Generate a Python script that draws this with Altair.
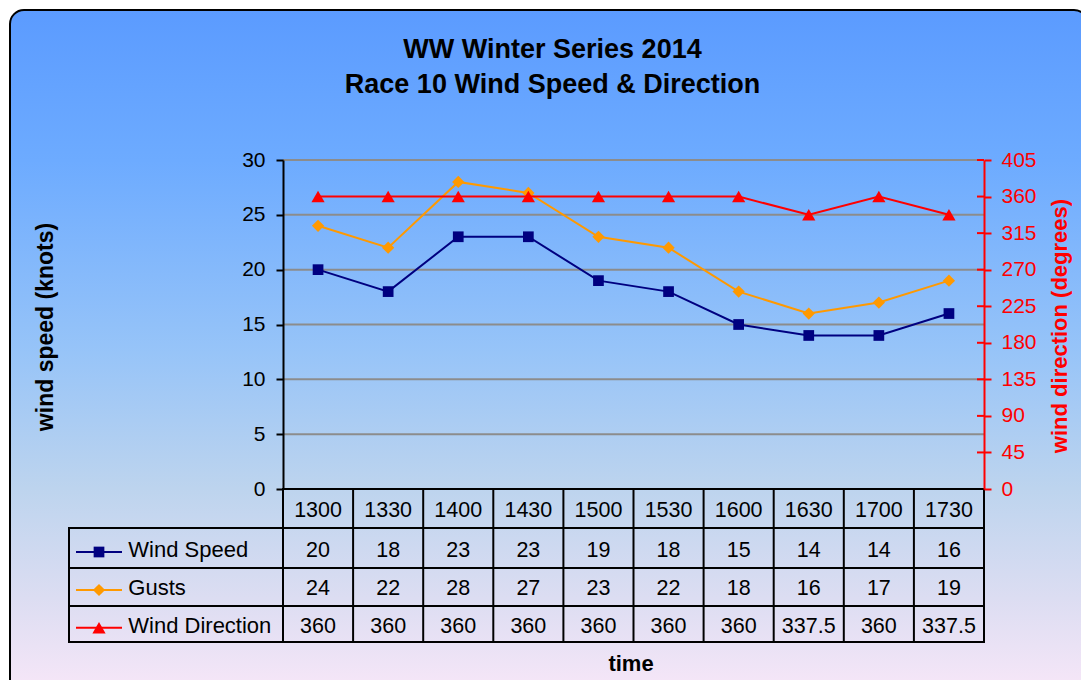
import altair as alt
import pandas as pd

# ---------------- data ----------------
TIMES = ["1300", "1330", "1400", "1430", "1500", "1530", "1600", "1630", "1700", "1730"]
WIND_SPEED = [20, 18, 23, 23, 19, 18, 15, 14, 14, 16]
GUSTS = [24, 22, 28, 27, 23, 22, 18, 16, 17, 19]
WIND_DIRECTION = [360, 360, 360, 360, 360, 360, 360, 337.5, 360, 337.5]
SERIES = ["Wind Speed", "Gusts", "Wind Direction"]
SPEED_TICKS = [0, 5, 10, 15, 20, 25, 30]
DIR_TICKS = [0, 45, 90, 135, 180, 225, 270, 315, 360, 405]
TITLE = ["WW Winter Series 2014", "Race 10 Wind Speed & Direction"]
Y_TITLE_LEFT = "wind speed (knots)"
Y_TITLE_RIGHT = "wind direction (degrees)"
X_TITLE = "time"

rows = []
for name, vals in zip(SERIES, [WIND_SPEED, GUSTS, WIND_DIRECTION]):
    for t, v in zip(TIMES, vals):
        rows.append({"time": t, "series": name, "value": v, "label": f"{v:g}"})
df = pd.DataFrame(rows)
times_df = pd.DataFrame({"time": TIMES})
one = pd.DataFrame({"k": [0]})
speed_ticks_df = pd.DataFrame({"tick": SPEED_TICKS})
dir_ticks_df = pd.DataFrame({"tick": DIR_TICKS})

# ---------------- styles / layout ----------------
W, H = 701, 329
FONT = "Liberation Sans"
STYLE = {
    "Wind Speed": dict(color="#000080", shape="square", size=115),
    "Gusts": dict(color="#FF9900", shape="diamond", size=150),
    "Wind Direction": dict(color="#FF0000", shape="triangle-up", size=175),
}
ROW_BASE = {"Wind Speed": 397.3, "Gusts": 435, "Wind Direction": 472.7}
KEY_Y = {"Wind Speed": 392, "Gusts": 430, "Wind Direction": 467.7}
HEADER_BASE = 356.7
TABLE_FONT = 21.5

XS = alt.Scale(domain=TIMES, paddingInner=0, paddingOuter=0)
X = alt.X("time:O", scale=XS, axis=None)
YL = alt.Scale(domain=[0, 30], nice=False)
YR = alt.Scale(domain=[0, 405], nice=False)

axis_left = alt.Axis(orient="left", values=SPEED_TICKS, tickSize=7, tickWidth=2,
                     tickColor="black", domainColor="black", domainWidth=2,
                     labelFontSize=21, labelColor="black", labelFont=FONT,
                     labelPadding=11, title=None, grid=False, zindex=1)
axis_right = alt.Axis(orient="right", values=DIR_TICKS, tickSize=7, tickWidth=2,
                      tickColor="#FF0000", domainColor="#FF0000", domainWidth=2,
                      labelFontSize=21, labelColor="#FF0000", labelFont=FONT,
                      labelPadding=10, title=None, grid=False, zindex=1)

# background panel
bg = alt.Chart(one).mark_rect(
    fill=alt.LinearGradient(
        gradient="linear", x1=0, y1=0, x2=0, y2=1,
        stops=[
            alt.GradientStop(color="#5B9BFF", offset=0),
            alt.GradientStop(color="#6DABFF", offset=0.22),
            alt.GradientStop(color="#97C4F8", offset=0.5),
            alt.GradientStop(color="#BDD4EE", offset=0.70),
            alt.GradientStop(color="#DCDDF2", offset=0.86),
            alt.GradientStop(color="#F8E7F8", offset=1),
        ]),
    stroke="black", strokeWidth=2, cornerRadius=14,
).encode(x=alt.value(-273), x2=alt.value(805), y=alt.value(-150), y2=alt.value(534))

# grid lines on the speed scale
grid = alt.Chart(speed_ticks_df).transform_filter("datum.tick > 0").mark_rule(
    color="#8c8c8c", strokeWidth=2
).encode(y=alt.Y("tick:Q", scale=YL, axis=axis_left), x=alt.value(0), x2=alt.value(W))


def series_layers(name, scale, axis):
    st = STYLE[name]
    base = alt.Chart(df).transform_filter(alt.datum.series == name)
    y = alt.Y("value:Q", scale=scale, axis=axis)
    line = base.mark_line(color=st["color"], strokeWidth=2).encode(x=X, y=y)
    pts = base.mark_point(filled=True, opacity=1, shape=st["shape"], size=st["size"],
                          color=st["color"]).encode(x=X, y=y)
    return [line, pts]


left_group = alt.layer(grid,
                       *series_layers("Wind Speed", YL, axis_left),
                       *series_layers("Gusts", YL, axis_left))

dir_inner_ticks = alt.Chart(dir_ticks_df).mark_rule(color="#FF0000", strokeWidth=2).encode(
    y=alt.Y("tick:Q", scale=YR, axis=axis_right), x=alt.value(W - 7), x2=alt.value(W))
right_group = alt.layer(dir_inner_ticks, *series_layers("Wind Direction", YR, axis_right))

# ---------------- data table ----------------
table = []
LINE = dict(color="black", strokeWidth=2, strokeCap="square")
table.append(alt.Chart(one).mark_rule(**LINE).encode(
    x=alt.value(0), x2=alt.value(W), y=alt.value(H)))
for yy in [368, 408, 446, 482]:
    table.append(alt.Chart(one).mark_rule(**LINE).encode(
        x=alt.value(-214), x2=alt.value(W), y=alt.value(yy)))
table.append(alt.Chart(one).mark_rule(**LINE).encode(
    x=alt.value(-214), y=alt.value(368), y2=alt.value(482)))
table.append(alt.Chart(one).mark_rule(**LINE).encode(
    x=alt.value(W), y=alt.value(H), y2=alt.value(482)))
table.append(alt.Chart(times_df).mark_rule(**LINE).encode(
    x=alt.X("time:O", scale=XS, axis=None, bandPosition=0),
    y=alt.value(H), y2=alt.value(482)))

TXT = dict(font=FONT, color="black", baseline="alphabetic")
table.append(alt.Chart(times_df).mark_text(align="center", fontSize=TABLE_FONT, **TXT).encode(
    x=X, y=alt.value(HEADER_BASE), text="time:N"))
for name in SERIES:
    st = STYLE[name]
    table.append(alt.Chart(df).transform_filter(alt.datum.series == name)
                 .mark_text(align="center", fontSize=TABLE_FONT, **TXT)
                 .encode(x=X, y=alt.value(ROW_BASE[name]), text="label:N"))
    table.append(alt.Chart(one).mark_text(align="left", fontSize=22, **TXT).encode(
        x=alt.value(-154.7), y=alt.value(ROW_BASE[name]), text=alt.value(name)))
    table.append(alt.Chart(one).mark_rule(color=st["color"], strokeWidth=2).encode(
        x=alt.value(-207), x2=alt.value(-161), y=alt.value(KEY_Y[name])))
    table.append(alt.Chart(one).mark_point(filled=True, opacity=1, shape=st["shape"],
                                           size=st["size"], color=st["color"]).encode(
        x=alt.value(-184), y=alt.value(KEY_Y[name])))

# ---------------- titles ----------------
texts = [
    alt.Chart(one).mark_text(font=FONT, fontSize=27, fontWeight="bold", align="center",
                             baseline="alphabetic", color="black").encode(
        x=alt.value(269.5), y=alt.value(-102), text=alt.value(TITLE[0])),
    alt.Chart(one).mark_text(font=FONT, fontSize=27, fontWeight="bold", align="center",
                             baseline="alphabetic", color="black").encode(
        x=alt.value(269.5), y=alt.value(-67), text=alt.value(TITLE[1])),
    alt.Chart(one).mark_text(font=FONT, fontSize=23, fontWeight="bold", align="center",
                             baseline="middle", angle=270, color="black").encode(
        x=alt.value(-237), y=alt.value(167), text=alt.value(Y_TITLE_LEFT)),
    alt.Chart(one).mark_text(font=FONT, fontSize=22, fontWeight="bold", align="center",
                             baseline="middle", angle=270, color="#FF0000").encode(
        x=alt.value(777), y=alt.value(166), text=alt.value(Y_TITLE_RIGHT)),
    alt.Chart(one).mark_text(font=FONT, fontSize=22, fontWeight="bold", align="center",
                             baseline="alphabetic", color="black").encode(
        x=alt.value(348), y=alt.value(511), text=alt.value(X_TITLE)),
]

chart = alt.layer(bg, left_group, right_group, *table, *texts).resolve_scale(
    y="independent"
).properties(
    width=W, height=H,
    autosize=alt.AutoSizeParams(type="none"),
    padding={"left": 275, "top": 152, "right": 97, "bottom": 191},
).configure_view(stroke="transparent").configure(background="white")

chart.save("out.html", embed_options={"renderer": "svg", "actions": False})
